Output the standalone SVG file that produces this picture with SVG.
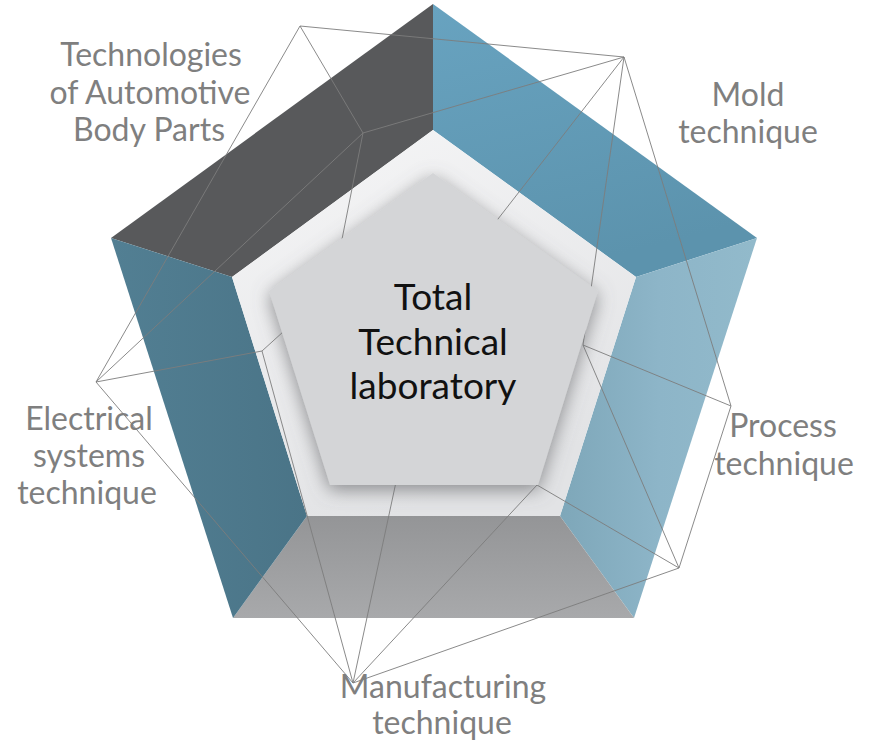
<svg xmlns="http://www.w3.org/2000/svg" width="869" height="745" viewBox="0 0 869 745">
<defs>
<style>
.lbl{font-family:Lato,"Open Sans","Liberation Sans",sans-serif;font-size:32px;fill:#7f7f7f;text-anchor:middle}
.ctr{font-family:Lato,"Open Sans","Liberation Sans",sans-serif;font-size:37px;fill:#111;text-anchor:middle}
.ln{stroke:#7d7d7d;stroke-width:0.9;fill:none}
</style>
<linearGradient id="gTR" x1="0" y1="0" x2="0.3" y2="1">
<stop offset="0" stop-color="#68a3c0"/><stop offset="1" stop-color="#5c93ad"/>
</linearGradient>
<linearGradient id="gR" x1="0" y1="0" x2="1" y2="0">
<stop offset="0" stop-color="#7ea7b9"/><stop offset="0.5" stop-color="#8db5c8"/><stop offset="1" stop-color="#92bacb"/>
</linearGradient>
<linearGradient id="gL" x1="0" y1="0" x2="1" y2="0">
<stop offset="0" stop-color="#527f93"/><stop offset="1" stop-color="#4a7487"/>
</linearGradient>
<linearGradient id="gB" x1="0" y1="0" x2="0" y2="1">
<stop offset="0" stop-color="#949597"/><stop offset="1" stop-color="#a8a9ab"/>
</linearGradient>
<linearGradient id="gW" x1="0" y1="0" x2="0.4" y2="1">
<stop offset="0" stop-color="#f6f6f7"/><stop offset="1" stop-color="#e2e3e5"/>
</linearGradient>
<filter id="sh" x="-20%" y="-20%" width="140%" height="140%">
<feGaussianBlur in="SourceAlpha" stdDeviation="9"/>
<feOffset dx="0" dy="5" result="b"/>
<feFlood flood-color="#6e6f72" flood-opacity="0.75"/>
<feComposite in2="b" operator="in"/>
<feMerge><feMergeNode/><feMergeNode in="SourceGraphic"/></feMerge>
</filter>
</defs>

<g id="frame">
<polygon points="433,4 433,130 232,277 111,238" fill="#58595b"/>
<polygon points="433,4 757,238 636,277 433,130" fill="url(#gTR)"/>
<polygon points="757,238 634,618 560,516 636,277" fill="url(#gR)"/>
<polygon points="634,618 233,618 307,516 560,516" fill="url(#gB)"/>
<polygon points="111,238 232,277 307,516 233,618" fill="url(#gL)"/>
<polygon points="433,130 636,277 560,516 307,516 232,277" fill="url(#gW)"/>
</g>

<g id="connectors">
<line class="ln" x1="300" y1="26" x2="624" y2="57"/>
<line class="ln" x1="300" y1="26" x2="363" y2="133"/>
<line class="ln" x1="300" y1="26" x2="96" y2="382"/>
<line class="ln" x1="363" y1="133" x2="624" y2="57"/>
<line class="ln" x1="363" y1="133" x2="96" y2="382"/>
<line class="ln" x1="363" y1="133" x2="330" y2="300"/>
<line class="ln" x1="624" y1="57" x2="470" y2="255"/>
<line class="ln" x1="624" y1="57" x2="583" y2="345"/>
<line class="ln" x1="624" y1="57" x2="731" y2="406"/>
<line class="ln" x1="96" y1="382" x2="262" y2="351"/>
<line class="ln" x1="96" y1="382" x2="353" y2="683"/>
<line class="ln" x1="262" y1="351" x2="305" y2="312"/>
<line class="ln" x1="262" y1="351" x2="353" y2="683"/>
<line class="ln" x1="353" y1="683" x2="405" y2="440"/>
<line class="ln" x1="353" y1="683" x2="537" y2="485"/>
<line class="ln" x1="353" y1="683" x2="679" y2="568"/>
<line class="ln" x1="537" y1="485" x2="679" y2="568"/>
<line class="ln" x1="583" y1="345" x2="731" y2="406"/>
<line class="ln" x1="583" y1="345" x2="679" y2="568"/>
<line class="ln" x1="731" y1="406" x2="679" y2="568"/>
</g>

<g id="center">
<polygon points="433,173 598,291 538,485 330,485 269,291" fill="#d4d5d7" filter="url(#sh)"/>
<text class="ctr" x="433" y="310">Total</text>
<text class="ctr" x="433" y="355">Technical</text>
<text class="ctr" x="433" y="399">laboratory</text>
</g>

<g id="label-body">
<text class="lbl" x="151" y="66">Technologies</text>
<text class="lbl" x="150" y="104">of Automotive</text>
<text class="lbl" x="149" y="141">Body Parts</text>
</g>
<g id="label-mold">
<text class="lbl" x="748" y="106">Mold</text>
<text class="lbl" x="748" y="143">technique</text>
</g>
<g id="label-process">
<text class="lbl" x="783" y="437">Process</text>
<text class="lbl" x="784" y="475">technique</text>
</g>
<g id="label-electrical">
<text class="lbl" x="89" y="430">Electrical</text>
<text class="lbl" x="89" y="467">systems</text>
<text class="lbl" x="87" y="504">technique</text>
</g>
<g id="label-manufacturing">
<text class="lbl" x="443" y="698">Manufacturing</text>
<text class="lbl" x="442" y="734">technique</text>
</g>
</svg>
